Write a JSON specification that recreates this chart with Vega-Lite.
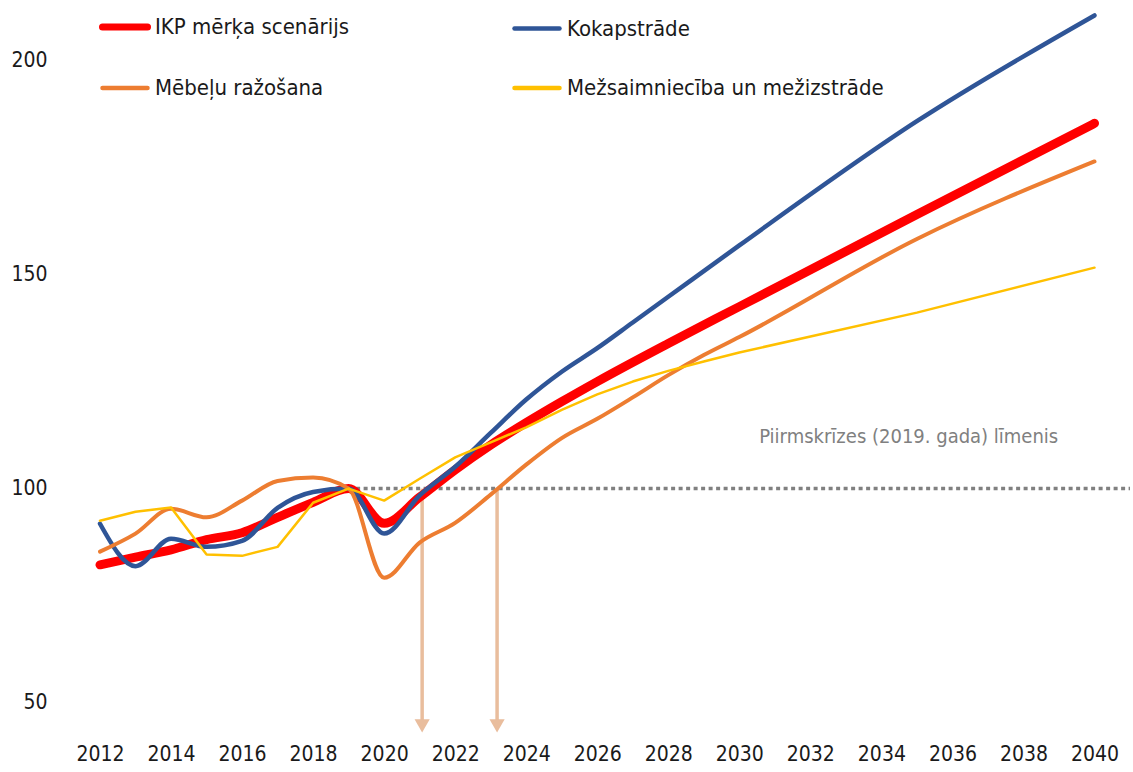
{
  "$schema": "https://vega.github.io/schema/vega-lite/v6.json",
  "width": 1030,
  "height": 728,
  "autosize": "none",
  "padding": {"left": 100, "top": 9, "right": 3, "bottom": 35},
  "config": {
    "view": {"stroke": null},
    "font": "DejaVu Sans Condensed",
    "axis": {"labelFont": "DejaVu Sans Condensed", "labelColor": "#1a1a1a"},
    "legend": {"labelFont": "DejaVu Sans Condensed", "labelColor": "#1a1a1a"}
  },
  "datasets": {
    "series": [
      {"series": "IKP mērķa scenārijs", "year": 2012, "value": 82.2},
      {"series": "IKP mērķa scenārijs", "year": 2013, "value": 84.0},
      {"series": "IKP mērķa scenārijs", "year": 2014, "value": 85.7},
      {"series": "IKP mērķa scenārijs", "year": 2015, "value": 88.1},
      {"series": "IKP mērķa scenārijs", "year": 2016, "value": 89.7},
      {"series": "IKP mērķa scenārijs", "year": 2017, "value": 93.3},
      {"series": "IKP mērķa scenārijs", "year": 2018, "value": 96.8},
      {"series": "IKP mērķa scenārijs", "year": 2019, "value": 100.0},
      {"series": "IKP mērķa scenārijs", "year": 2020, "value": 91.9},
      {"series": "IKP mērķa scenārijs", "year": 2021, "value": 98.0},
      {"series": "IKP mērķa scenārijs", "year": 2022, "value": 104.4},
      {"series": "IKP mērķa scenārijs", "year": 2023, "value": 110.2},
      {"series": "IKP mērķa scenārijs", "year": 2024, "value": 115.4},
      {"series": "IKP mērķa scenārijs", "year": 2025, "value": 120.3},
      {"series": "IKP mērķa scenārijs", "year": 2026, "value": 125.0},
      {"series": "IKP mērķa scenārijs", "year": 2028, "value": 133.9},
      {"series": "IKP mērķa scenārijs", "year": 2030, "value": 142.5},
      {"series": "IKP mērķa scenārijs", "year": 2035, "value": 164.0},
      {"series": "IKP mērķa scenārijs", "year": 2040, "value": 185.3},
      {"series": "Kokapstrāde", "year": 2012, "value": 91.8},
      {"series": "Kokapstrāde", "year": 2013, "value": 81.9},
      {"series": "Kokapstrāde", "year": 2014, "value": 88.3},
      {"series": "Kokapstrāde", "year": 2015, "value": 86.4},
      {"series": "Kokapstrāde", "year": 2016, "value": 87.8},
      {"series": "Kokapstrāde", "year": 2017, "value": 95.5},
      {"series": "Kokapstrāde", "year": 2018, "value": 99.2},
      {"series": "Kokapstrāde", "year": 2019, "value": 100.0},
      {"series": "Kokapstrāde", "year": 2020, "value": 89.5},
      {"series": "Kokapstrāde", "year": 2021, "value": 98.4},
      {"series": "Kokapstrāde", "year": 2022, "value": 105.1},
      {"series": "Kokapstrāde", "year": 2023, "value": 113.0},
      {"series": "Kokapstrāde", "year": 2024, "value": 120.8},
      {"series": "Kokapstrāde", "year": 2025, "value": 127.3},
      {"series": "Kokapstrāde", "year": 2026, "value": 132.8},
      {"series": "Kokapstrāde", "year": 2027, "value": 138.8},
      {"series": "Kokapstrāde", "year": 2028, "value": 144.8},
      {"series": "Kokapstrāde", "year": 2030, "value": 156.8},
      {"series": "Kokapstrāde", "year": 2035, "value": 185.8},
      {"series": "Kokapstrāde", "year": 2040, "value": 210.5},
      {"series": "Mēbeļu ražošana", "year": 2012, "value": 85.3},
      {"series": "Mēbeļu ražošana", "year": 2013, "value": 89.5},
      {"series": "Mēbeļu ražošana", "year": 2014, "value": 95.3},
      {"series": "Mēbeļu ražošana", "year": 2015, "value": 93.3},
      {"series": "Mēbeļu ražošana", "year": 2016, "value": 97.2},
      {"series": "Mēbeļu ražošana", "year": 2017, "value": 101.8},
      {"series": "Mēbeļu ražošana", "year": 2018, "value": 102.6},
      {"series": "Mēbeļu ražošana", "year": 2019, "value": 100.0},
      {"series": "Mēbeļu ražošana", "year": 2020, "value": 79.2},
      {"series": "Mēbeļu ražošana", "year": 2021, "value": 87.4},
      {"series": "Mēbeļu ražošana", "year": 2022, "value": 92.0},
      {"series": "Mēbeļu ražošana", "year": 2023, "value": 98.6},
      {"series": "Mēbeļu ražošana", "year": 2024, "value": 105.6},
      {"series": "Mēbeļu ražošana", "year": 2025, "value": 111.8},
      {"series": "Mēbeļu ražošana", "year": 2026, "value": 116.3},
      {"series": "Mēbeļu ražošana", "year": 2027, "value": 121.3},
      {"series": "Mēbeļu ražošana", "year": 2028, "value": 126.5},
      {"series": "Mēbeļu ražošana", "year": 2029, "value": 131.2},
      {"series": "Mēbeļu ražošana", "year": 2030, "value": 135.4},
      {"series": "Mēbeļu ražošana", "year": 2035, "value": 158.3},
      {"series": "Mēbeļu ražošana", "year": 2040, "value": 176.4},
      {"series": "Mežsaimniecība un mežizstrāde", "year": 2012, "value": 92.5},
      {"series": "Mežsaimniecība un mežizstrāde", "year": 2013, "value": 94.6},
      {"series": "Mežsaimniecība un mežizstrāde", "year": 2014, "value": 95.6},
      {"series": "Mežsaimniecība un mežizstrāde", "year": 2015, "value": 84.6},
      {"series": "Mežsaimniecība un mežizstrāde", "year": 2016, "value": 84.3},
      {"series": "Mežsaimniecība un mežizstrāde", "year": 2017, "value": 86.4},
      {"series": "Mežsaimniecība un mežizstrāde", "year": 2018, "value": 96.7},
      {"series": "Mežsaimniecība un mežizstrāde", "year": 2019, "value": 100.0},
      {"series": "Mežsaimniecība un mežizstrāde", "year": 2020, "value": 97.2},
      {"series": "Mežsaimniecība un mežizstrāde", "year": 2021, "value": 102.3},
      {"series": "Mežsaimniecība un mežizstrāde", "year": 2022, "value": 107.3},
      {"series": "Mežsaimniecība un mežizstrāde", "year": 2023, "value": 110.8},
      {"series": "Mežsaimniecība un mežizstrāde", "year": 2024, "value": 114.3},
      {"series": "Mežsaimniecība un mežizstrāde", "year": 2025, "value": 118.4},
      {"series": "Mežsaimniecība un mežizstrāde", "year": 2026, "value": 122.0},
      {"series": "Mežsaimniecība un mežizstrāde", "year": 2027, "value": 125.0},
      {"series": "Mežsaimniecība un mežizstrāde", "year": 2028, "value": 127.5},
      {"series": "Mežsaimniecība un mežizstrāde", "year": 2029, "value": 129.7},
      {"series": "Mežsaimniecība un mežizstrāde", "year": 2030, "value": 131.8},
      {"series": "Mežsaimniecība un mežizstrāde", "year": 2035, "value": 141.1},
      {"series": "Mežsaimniecība un mežizstrāde", "year": 2040, "value": 151.6}
    ],
    "reference": [
      {"year": 2019, "year2": 2041, "value": 100}
    ],
    "arrows": [
      {"year": 2021.07, "value": 100, "value2": 45.5, "tip": 44.6},
      {"year": 2023.18, "value": 100, "value2": 45.5, "tip": 44.6}
    ],
    "notes": [
      {"year": 2030.56, "value": 112.1, "label": "Piirmskrīzes (2019. gada) līmenis"}
    ]
  },
  "encoding": {
    "x": {
      "field": "year",
      "type": "quantitative",
      "scale": {"domain": [2012, 2041], "nice": false, "zero": false},
      "axis": {
        "values": [2012, 2014, 2016, 2018, 2020, 2022, 2024, 2026, 2028, 2030, 2032, 2034, 2036, 2038, 2040],
        "format": "d",
        "grid": false,
        "domain": false,
        "ticks": false,
        "labelFontSize": 21,
        "labelPadding": 6,
        "labelFlush": false,
        "title": null
      }
    },
    "y": {
      "field": "value",
      "type": "quantitative",
      "scale": {"domain": [42, 212], "nice": false, "zero": false},
      "axis": {
        "values": [50, 100, 150, 200],
        "grid": false,
        "domain": false,
        "ticks": false,
        "labelFontSize": 21,
        "labelPadding": 53,
        "title": null
      }
    }
  },
  "layer": [
    {
      "data": {"name": "reference"},
      "mark": {"type": "rule", "color": "#808080", "strokeWidth": 3.5, "strokeDash": [4, 3.5]},
      "encoding": {"x2": {"field": "year2"}}
    },
    {
      "data": {"name": "arrows"},
      "mark": {"type": "rule", "color": "#E9BD9D", "strokeWidth": 3.5},
      "encoding": {"y2": {"field": "value2"}}
    },
    {
      "data": {"name": "arrows"},
      "mark": {"type": "point", "shape": "triangle-down", "filled": true, "size": 230, "color": "#E9BD9D", "opacity": 1},
      "encoding": {"y": {"field": "tip", "type": "quantitative"}}
    },
    {
      "data": {"name": "series"},
      "transform": [{"filter": "datum.series !== 'Mežsaimniecība un mežizstrāde'"}],
      "mark": {"type": "line", "interpolate": "monotone", "strokeCap": "round", "strokeJoin": "round"},
      "encoding": {
        "color": {
          "field": "series",
          "type": "nominal",
          "scale": {
            "domain": ["IKP mērķa scenārijs", "Mēbeļu ražošana", "Kokapstrāde", "Mežsaimniecība un mežizstrāde"],
            "range": ["#FF0000", "#ED7D31", "#2F5597", "#FFC000"]
          },
          "legend": {
            "orient": "none",
            "legendX": 0,
            "legendY": -7,
            "columns": 2,
            "symbolType": "stroke",
            "symbolSize": 2025,
            "symbolStrokeWidth": 4,
            "labelFontSize": 22,
            "labelOffset": 5,
            "rowPadding": 22,
            "columnPadding": 156,
            "labelLimit": 0,
            "title": null,
            "encode": {
              "symbols": {
                "update": {
                  "strokeWidth": {"signal": "(datum.value === 'IKP mērķa scenārijs' ? 7 : 4.5)"},
                  "strokeCap": {"value": "round"}
                }
              }
            }
          }
        },
        "strokeWidth": {
          "field": "series",
          "type": "nominal",
          "scale": {
            "type": "ordinal",
            "domain": ["IKP mērķa scenārijs", "Mēbeļu ražošana", "Kokapstrāde", "Mežsaimniecība un mežizstrāde"],
            "range": [9, 4, 4.5, 4]
          },
          "legend": null
        }
      }
    },
    {
      "data": {"name": "series"},
      "transform": [{"filter": "datum.series === 'Mežsaimniecība un mežizstrāde'"}],
      "mark": {"type": "line", "interpolate": "linear", "strokeCap": "round", "strokeJoin": "round"},
      "encoding": {
        "color": {"field": "series", "type": "nominal"},
        "strokeWidth": {"field": "series", "type": "nominal", "legend": null}
      }
    },
    {
      "data": {"name": "notes"},
      "mark": {"type": "text", "align": "left", "baseline": "middle", "fontSize": 20, "color": "#808080"},
      "encoding": {"text": {"field": "label"}}
    }
  ]
}
